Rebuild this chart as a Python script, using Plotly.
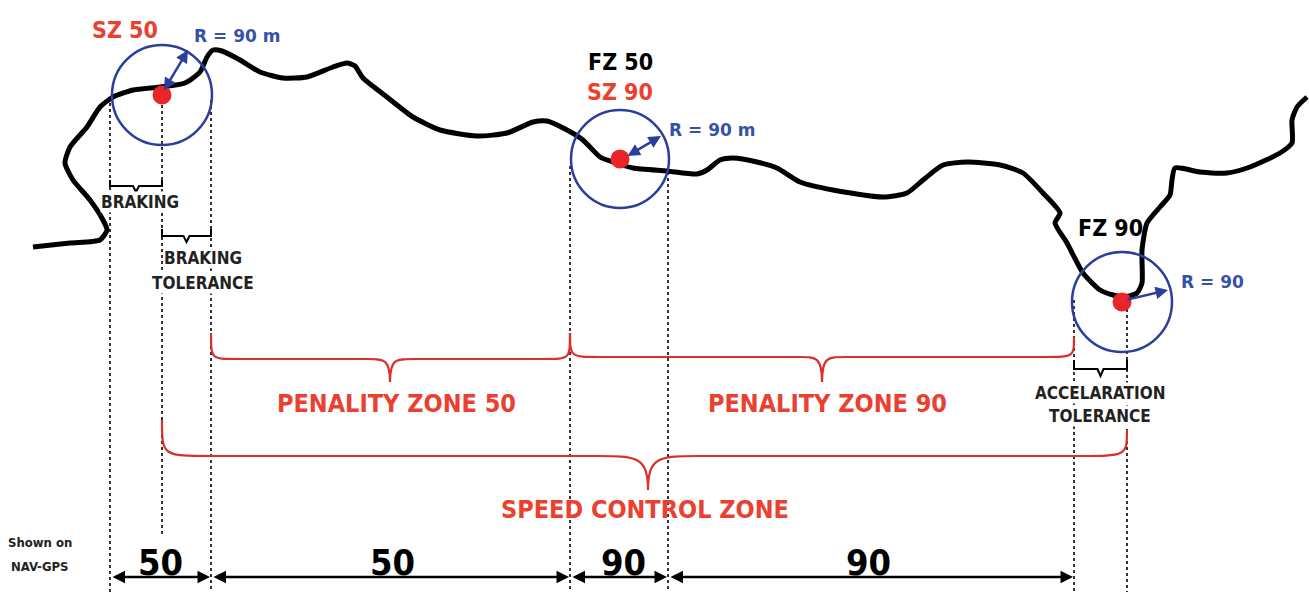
import plotly.graph_objects as go

# ---------------- data ----------------
road_x = [33, 70, 100, 107, 103, 90, 73, 65, 70, 87, 100, 113, 133, 160, 185, 200, 207, 213, 222, 240, 260,
          283, 307, 333, 347, 355, 363, 387, 413, 440, 477, 507, 533, 547, 567, 583, 600, 613, 633, 667,
          697, 707, 720, 733, 757, 777, 800, 833, 883, 907, 923, 943, 967, 1000, 1023, 1043, 1060, 1055,
          1067, 1083, 1100, 1113, 1123, 1137, 1142, 1142, 1147, 1160, 1170, 1172, 1175, 1200, 1227, 1250,
          1280, 1292, 1292, 1297, 1307]
road_y = [247, 243, 240, 230, 220, 200, 180, 163, 147, 127, 107, 97, 90, 87, 83, 72, 57, 50, 51, 60, 72,
          78, 77, 67, 63, 66, 78, 97, 117, 130, 136, 133, 122, 121, 130, 140, 157, 162, 168, 171,
          174, 170, 160, 158, 162, 168, 182, 190, 197, 193, 180, 165, 162, 165, 173, 193, 213, 223,
          243, 273, 290, 295, 297, 293, 283, 250, 223, 207, 195, 180, 168, 172, 173, 167,
          153, 143, 120, 107, 97]

zone_cx = [162, 620, 1122]
zone_cy = [95, 159, 302]
zone_r = [50, 49, 50]
zone_top_labels = [["SZ 50"], ["FZ 50", "SZ 90"], ["FZ 90"]]
radius_labels = ["R = 90 m", "R = 90 m", "R = 90"]

guide_x = [110, 162, 211, 570, 668, 1074, 1127]
guide_top = [97, 93, 100, 166, 172, 300, 303]
guide_bottom = [592, 535, 592, 592, 592, 592, 592]

gps_bounds = [110, 211, 570, 668, 1074]
gps_labels = ["50", "50", "90", "90"]

penalty_labels = ["PENALITY ZONE 50", "PENALITY ZONE 90"]
control_label = "SPEED CONTROL ZONE"

RED_TXT = "#EA4030"
RED_LINE = "#D8302B"
BLUE = "#2B3E9C"
BLUE_TXT = "#3552A8"
GREY = "#333333"
NARROW = "Liberation Sans Narrow, DejaVu Sans Condensed, Arial Narrow, sans-serif"
WIDE = "DejaVu Sans, Verdana, sans-serif"

fig = go.Figure()
shapes = []
ann = []

# dotted guide lines
for x, t, b in zip(guide_x, guide_top, guide_bottom):
    shapes.append(dict(type="line", x0=x, x1=x, y0=t, y1=b, xref="x", yref="y",
                       line=dict(color=GREY, width=2, dash="dot"), layer="below"))

# road
fig.add_trace(go.Scatter(x=road_x, y=road_y, mode="lines",
                         line=dict(color="black", width=5, shape="spline", smoothing=0.6),
                         hoverinfo="skip", showlegend=False))

# circles
for cx, cy, r in zip(zone_cx, zone_cy, zone_r):
    shapes.append(dict(type="circle", x0=cx - r, x1=cx + r, y0=cy - r, y1=cy + r, xref="x", yref="y",
                       line=dict(color=BLUE, width=2.5)))

# red dots
fig.add_trace(go.Scatter(x=zone_cx, y=zone_cy, mode="markers",
                         marker=dict(color="#E8262A", size=19, line=dict(width=0)),
                         hoverinfo="skip", showlegend=False))


def red_brace(xa, ya, xb, yb, yh, xt, yt, r_end, r_tip):
    p = f"M {xa},{ya} C {xa},{yh} {xa},{yh} {xa + r_end},{yh} "
    p += f"L {xt - r_tip},{yh} C {xt - r_tip * 0.25},{yh} {xt},{yh} {xt},{yt} "
    p += f"C {xt},{yh} {xt + r_tip * 0.25},{yh} {xt + r_tip},{yh} "
    p += f"L {xb - r_end},{yh} C {xb},{yh} {xb},{yh} {xb},{yb}"
    return p


def black_brace(xa, xb, yh, ytick, ytip):
    xm = (xa + xb) / 2
    return (f"M {xa},{ytick} L {xa},{yh} L {xm - 3},{yh} L {xm},{ytip} L {xm + 3},{yh} "
            f"L {xb},{yh} L {xb},{ytick}")


# red braces
shapes.append(dict(type="path", path=red_brace(211, 333, 570, 333, 359, 390, 382, 26, 23),
                   line=dict(color=RED_LINE, width=2.2)))
shapes.append(dict(type="path", path=red_brace(570, 333, 1074, 337, 357, 822, 382, 30, 23),
                   line=dict(color=RED_LINE, width=2.2)))
shapes.append(dict(type="path", path=red_brace(162, 420, 1127, 430, 456, 648, 490, 50, 50),
                   line=dict(color=RED_LINE, width=2.2)))

# black braces
shapes.append(dict(type="path", path=black_brace(110, 162, 186, 180, 192), line=dict(color="black", width=2)))
shapes.append(dict(type="path", path=black_brace(162, 211, 236, 229, 242), line=dict(color="black", width=2)))
shapes.append(dict(type="path", path=black_brace(1074, 1127, 369, 360, 376), line=dict(color="black", width=2)))

# blue radius arrows
arrows = [((163, 92), (188, 50), "end+start"), ((626, 157), (661, 136), "end+start"),
          ((1126, 300), (1168, 290), "end")]
for (x0, y0), (x1, y1), side in arrows:
    ann.append(dict(x=x1, y=y1, ax=x0, ay=y0, xref="x", yref="y", axref="x", ayref="y", text="",
                    showarrow=True, arrowhead=2, arrowside=side, arrowsize=1, arrowwidth=2.5,
                    arrowcolor=BLUE))

# bottom NAV-GPS arrows
for a, b in zip(gps_bounds[:-1], gps_bounds[1:]):
    ann.append(dict(x=b - 1, y=577, ax=a + 1, ay=577, xref="x", yref="y", axref="x", ayref="y", text="",
                    showarrow=True, arrowhead=2, arrowside="end+start", arrowsize=1, arrowwidth=2.5,
                    arrowcolor="black"))


def txt(x, y, s, size, color, family=NARROW, bg=None):
    d = dict(x=x, y=y, xref="x", yref="y", text=s, showarrow=False,
             font=dict(family=family, size=size, color=color, weight="bold"),
             xanchor="center", yanchor="middle")
    if bg:
        d["bgcolor"] = bg
        d["borderpad"] = 0
    ann.append(d)


# zone labels
txt(125, 30, zone_top_labels[0][0], 23, RED_TXT)
txt(620, 62, zone_top_labels[1][0], 23, "black")
txt(620, 92, zone_top_labels[1][1], 23, RED_TXT)
txt(1110, 228, zone_top_labels[2][0], 23, "black")

txt(237, 36, radius_labels[0], 17, BLUE_TXT, WIDE)
txt(712, 130, radius_labels[1], 17, BLUE_TXT, WIDE)
txt(1212, 282, radius_labels[2], 17, BLUE_TXT, WIDE)

txt(140, 202, "BRAKING", 17, "#222222", bg="white")
txt(203, 258, "BRAKING", 17, "#222222", bg="white")
txt(203, 283, "TOLERANCE", 17, "#222222", bg="white")
txt(1100, 393, "ACCELARATION", 17, "#222222", bg="white")
txt(1100, 416, "TOLERANCE", 17, "#222222", bg="white")

txt(396, 403, penalty_labels[0], 25, RED_TXT)
txt(827, 403, penalty_labels[1], 25, RED_TXT)
txt(645, 509, control_label, 25, RED_TXT)

txt(40, 542, "Shown on", 13, "#222222")
txt(40, 566, "NAV-GPS", 13, "#222222")

gps_centers = [160, 392, 623, 868]
for cx, lab in zip(gps_centers, gps_labels):
    txt(cx, 562, lab, 36, "black")

fig.update_layout(
    width=1309, height=592, margin=dict(l=0, r=0, t=0, b=0),
    paper_bgcolor="white", plot_bgcolor="white",
    xaxis=dict(range=[0, 1309], visible=False, fixedrange=True),
    yaxis=dict(range=[592, 0], visible=False, fixedrange=True),
    shapes=shapes, annotations=ann, showlegend=False,
)

fig.write_html("out.html", config={"displayModeBar": False},
               post_script="document.body.style.margin='0';document.body.style.overflow='hidden';")
